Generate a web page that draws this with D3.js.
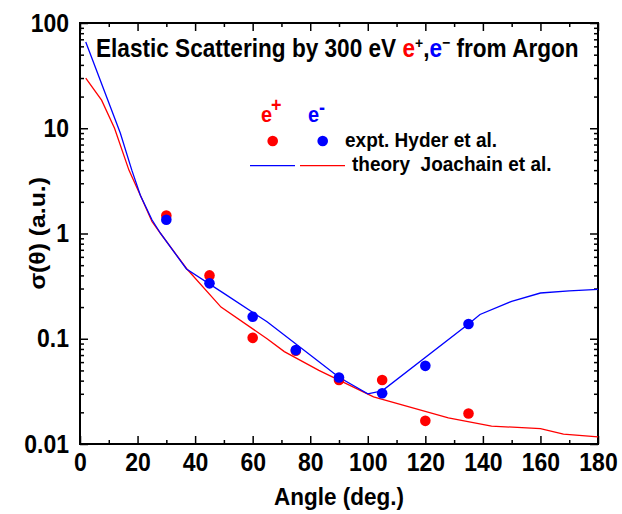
<!DOCTYPE html>
<html>
<head>
<meta charset="utf-8">
<script src="https://cdn.jsdelivr.net/npm/d3@7"></script>
<style>
body { margin: 0; background: #fff; }
text { font-family: "Liberation Sans", Arial, sans-serif; font-weight: bold; }
</style>
</head>
<body>
<script>
// measured points (Hyder et al.)
var exptAngles = [30, 45, 60, 75, 90, 105, 120, 135];
var posExpt = [1.48, 0.40, 0.102, 0.077, 0.0405, 0.0405, 0.0166, 0.0195];
var eleExpt = [1.35, 0.336, 0.162, 0.078, 0.0428, 0.0304, 0.0553, 0.138];

// theory curves (Joachain et al.)
var posTheoryAngles = [2, 7.5, 12, 17, 21, 25, 28, 37, 49, 65, 71, 83, 90, 102, 128, 143, 160, 168, 180];
var posTheory = [30, 18.5, 10, 4.0, 2.3, 1.3, 1.0, 0.465, 0.2, 0.1, 0.0755, 0.05, 0.0405, 0.028, 0.0177, 0.0148, 0.014, 0.0124, 0.0117];
var eleTheoryAngles = [2, 14, 18, 21, 25, 28, 37, 50, 65, 80, 90, 100, 105, 135, 139, 150, 160, 170, 180];
var eleTheory = [66, 9.0, 4.0, 2.3, 1.35, 1.0, 0.46, 0.27, 0.145, 0.07, 0.043, 0.030, 0.032, 0.138, 0.17, 0.227, 0.272, 0.285, 0.295];

var xTicks = [0, 20, 40, 60, 80, 100, 120, 140, 160, 180];
var xMinor = [10, 30, 50, 70, 90, 110, 130, 150, 170];
var yTicks = [0.01, 0.1, 1, 10, 100];
var yTickLabels = ["0.01", "0.1", "1", "10", "100"];

var width = 622, height = 514;
var margin = {top: 23, right: 24, bottom: 70, left: 80};
var S = 1.1;       // glyphs in the original are a bit taller than wide
var tickFont = 23;

var svg = d3.select("body").append("svg")
	.attr("width", width)
	.attr("height", height);

var x = d3.scaleLinear()
	.domain([0, 180])
	.range([margin.left, width - margin.right]);

var y = d3.scaleLog()
	.domain([0.01, 100])
	.range([height - margin.bottom, margin.top]);

var yMinor = [];
yTicks.slice(0, 4).forEach(function(d) {
	for (var k = 2; k <= 9; k++) yMinor.push(d * k);
});

// move x/y/dy into a transform so the text can be stretched vertically
function stretch(sel, fs) {
	sel.each(function() {
		var t = d3.select(this);
		var tx = +t.attr("x") || 0, ty = +t.attr("y") || 0;
		var dy = parseFloat(t.attr("dy") || 0) * fs;
		t.attr("x", 0).attr("y", 0).attr("dy", null)
			.attr("transform", "translate(" + tx + "," + (ty + dy * S) + ") scale(1," + S + ")");
	});
}

function styleAxis(g) {
	g.select(".domain").remove();
	g.selectAll("line").attr("stroke", "#000").attr("stroke-width", 1.5);
	g.selectAll("text").attr("fill", "#000").attr("font-size", tickFont + "px");
	stretch(g.selectAll("text"), tickFont);
}

// ticks inside, on all four sides
svg.append("g")
	.attr("transform", "translate(0," + y.range()[0] + ")")
	.call(d3.axisBottom(x).tickValues(xTicks).tickSize(-8).tickPadding(9))
	.call(styleAxis);
svg.append("g")
	.attr("transform", "translate(0," + y.range()[0] + ")")
	.call(d3.axisBottom(x).tickValues(xMinor).tickSize(-4).tickFormat(""))
	.call(styleAxis);
svg.append("g")
	.attr("transform", "translate(0," + y.range()[1] + ")")
	.call(d3.axisTop(x).tickValues(xTicks).tickSize(-8).tickFormat(""))
	.call(styleAxis);
svg.append("g")
	.attr("transform", "translate(0," + y.range()[1] + ")")
	.call(d3.axisTop(x).tickValues(xMinor).tickSize(-4).tickFormat(""))
	.call(styleAxis);

svg.append("g")
	.attr("transform", "translate(" + x.range()[0] + ",0)")
	.call(d3.axisLeft(y).tickValues(yTicks).tickSize(-8).tickPadding(11)
		.tickFormat(function(d, i) { return yTickLabels[i]; }))
	.call(styleAxis);
svg.append("g")
	.attr("transform", "translate(" + x.range()[0] + ",0)")
	.call(d3.axisLeft(y).tickValues(yMinor).tickSize(-4).tickFormat(""))
	.call(styleAxis);
svg.append("g")
	.attr("transform", "translate(" + x.range()[1] + ",0)")
	.call(d3.axisRight(y).tickValues(yTicks).tickSize(-8).tickFormat(""))
	.call(styleAxis);
svg.append("g")
	.attr("transform", "translate(" + x.range()[1] + ",0)")
	.call(d3.axisRight(y).tickValues(yMinor).tickSize(-4).tickFormat(""))
	.call(styleAxis);

// frame
svg.append("rect")
	.attr("x", x.range()[0])
	.attr("y", y.range()[1])
	.attr("width", x.range()[1] - x.range()[0])
	.attr("height", y.range()[0] - y.range()[1])
	.attr("fill", "none")
	.attr("stroke", "#000")
	.attr("stroke-width", 2);

// curves
var line = d3.line()
	.x(function(d) { return x(d[0]); })
	.y(function(d) { return y(d[1]); });

svg.append("path")
	.datum(d3.zip(posTheoryAngles, posTheory))
	.attr("d", line)
	.attr("fill", "none")
	.attr("stroke", "#ff0000")
	.attr("stroke-width", 1.3);

svg.append("path")
	.datum(d3.zip(eleTheoryAngles, eleTheory))
	.attr("d", line)
	.attr("fill", "none")
	.attr("stroke", "#0000ff")
	.attr("stroke-width", 1.3);

svg.append("g").selectAll("circle")
	.data(d3.zip(exptAngles, posExpt))
	.enter().append("circle")
	.attr("cx", function(d) { return x(d[0]); })
	.attr("cy", function(d) { return y(d[1]); })
	.attr("r", 5.3)
	.attr("fill", "#ff0000");

svg.append("g").selectAll("circle")
	.data(d3.zip(exptAngles, eleExpt))
	.enter().append("circle")
	.attr("cx", function(d) { return x(d[0]); })
	.attr("cy", function(d) { return y(d[1]); })
	.attr("r", 5.3)
	.attr("fill", "#0000ff");

// text helper
function label(px, py, fs, color, str) {
	return svg.append("text")
		.attr("transform", "translate(" + px + "," + py + ") scale(1," + S + ")")
		.attr("font-size", fs + "px")
		.attr("fill", color)
		.text(str);
}

// title
var title = label(96, 57, 22.6, "#000", null);
title.append("tspan").text("Elastic Scattering by 300 eV ");
title.append("tspan").attr("fill", "#ff0000").text("e");
title.append("tspan").attr("fill", "#000").attr("font-size", "14px").attr("dy", -8).text("+");
title.append("tspan").attr("dy", 8).text(",");
title.append("tspan").attr("fill", "#0000ff").text("e");
title.append("tspan").attr("font-size", "14px").attr("dy", -8).text("\u2212");
title.append("tspan").attr("dy", 8).text(" from Argon");

// legend
label(261, 122, 20, "#ff0000", "e");
label(271, 112, 18, "#ff0000", "+");
label(308, 122, 20, "#0000ff", "e");
label(319, 114, 18, "#0000ff", "-");

svg.append("circle").attr("cx", 272.7).attr("cy", 141).attr("r", 5.3).attr("fill", "#ff0000");
svg.append("circle").attr("cx", 322.7).attr("cy", 141).attr("r", 5.3).attr("fill", "#0000ff");
label(345, 147, 19, "#000", "expt. Hyder et al.");

svg.append("line").attr("x1", 250).attr("x2", 295).attr("y1", 165.7).attr("y2", 165.7)
	.attr("stroke", "#0000ff").attr("stroke-width", 1.3);
svg.append("line").attr("x1", 300).attr("x2", 345).attr("y1", 165.7).attr("y2", 165.7)
	.attr("stroke", "#ff0000").attr("stroke-width", 1.3);
label(352, 171, 19, "#000", "theory  Joachain et al.").style("white-space", "pre");

// axis titles
label((x.range()[0] + x.range()[1]) / 2, 505, 22.5, "#000", "Angle (deg.)")
	.attr("text-anchor", "middle");

svg.append("text")
	.attr("transform", "translate(45," + (y.range()[0] + y.range()[1]) / 2 + ") rotate(-90) scale(" + S + ",1)")
	.attr("font-size", "22.5px")
	.attr("text-anchor", "middle")
	.attr("fill", "#000")
	.text("\u03c3(\u03b8) (a.u.)");
</script>
</body>
</html>
